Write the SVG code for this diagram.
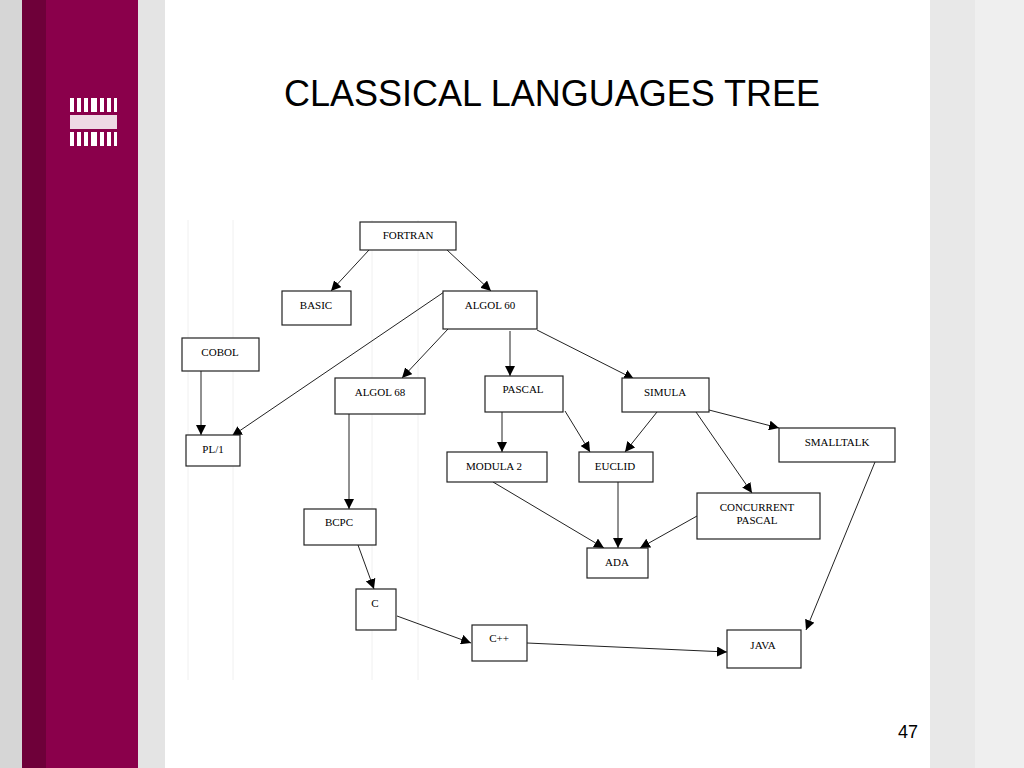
<svg xmlns="http://www.w3.org/2000/svg" width="1024" height="768" viewBox="0 0 1024 768">
<style>
.n rect{fill:#fff;stroke:#222;stroke-width:1.2}
.n text{font-family:"Liberation Serif",serif;font-size:11px;fill:#000;text-anchor:middle}
.e line{stroke:#222;stroke-width:1;marker-end:url(#a)}
.g{stroke:#f0f0f0;stroke-width:1}
</style>
<defs><marker id="a" viewBox="0 0 10 10" refX="10" refY="5" markerWidth="10" markerHeight="10" markerUnits="userSpaceOnUse" orient="auto"><path d="M0,0L10,5L0,10z" fill="#000"/></marker></defs>
<rect width="1024" height="768" fill="#fff"/>
<rect x="0" width="22" height="768" fill="#d6d6d6"/>
<rect x="22" width="24" height="768" fill="#6e0039"/>
<rect x="46" width="92" height="768" fill="#8a004b"/>
<rect x="138" width="27" height="768" fill="#e4e4e4"/>
<rect x="930" width="45" height="768" fill="#e8e8e8"/>
<rect x="975" width="49" height="768" fill="#efefef"/>
<g fill="#fff">
<rect x="70" y="98" width="4" height="14"/><rect x="77" y="98" width="4" height="14"/><rect x="84" y="98" width="4" height="14"/><rect x="91" y="98" width="6" height="14"/><rect x="100" y="98" width="4" height="14"/><rect x="107" y="98" width="4" height="14"/><rect x="114" y="98" width="3" height="14"/>
<rect x="70" y="115" width="47" height="14" opacity="0.85"/>
<rect x="70" y="132" width="4" height="14"/><rect x="77" y="132" width="4" height="14"/><rect x="84" y="132" width="4" height="14"/><rect x="91" y="132" width="6" height="14"/><rect x="100" y="132" width="4" height="14"/><rect x="107" y="132" width="4" height="14"/><rect x="114" y="132" width="3" height="14"/>
</g>
<g class="g"><line x1="188" y1="220" x2="188" y2="680"/><line x1="233" y1="220" x2="233" y2="680"/><line x1="372" y1="220" x2="372" y2="680"/><line x1="418" y1="220" x2="418" y2="680"/></g>
<text x="552" y="106" font-family="Liberation Sans,sans-serif" font-size="36" text-anchor="middle">CLASSICAL LANGUAGES TREE</text>
<text x="908" y="738" font-family="Liberation Sans,sans-serif" font-size="18" text-anchor="middle">47</text>
<g class="e">
<line x1="369" y1="250" x2="331" y2="291"/>
<line x1="447" y1="250" x2="491" y2="291"/>
<line x1="444" y1="292" x2="232" y2="436"/>
<line x1="201" y1="371" x2="201" y2="435"/>
<line x1="448" y1="329" x2="402" y2="378"/>
<line x1="510" y1="331" x2="510" y2="376"/>
<line x1="537" y1="330" x2="634" y2="379"/>
<line x1="502" y1="412" x2="502" y2="452"/>
<line x1="565" y1="411" x2="590" y2="452"/>
<line x1="657" y1="412" x2="625" y2="452"/>
<line x1="709" y1="410" x2="779" y2="428"/>
<line x1="696" y1="412" x2="752" y2="493"/>
<line x1="349" y1="414" x2="349" y2="509"/>
<line x1="493" y1="482" x2="604" y2="548"/>
<line x1="618" y1="482" x2="618" y2="548"/>
<line x1="697" y1="516" x2="640" y2="548"/>
<line x1="875" y1="462" x2="806" y2="630"/>
<line x1="358" y1="545" x2="374" y2="589"/>
<line x1="397" y1="616" x2="471" y2="643"/>
<line x1="527" y1="643" x2="727" y2="652"/>
</g>
<g id="fortran" class="n"><rect x="360" y="222" width="96" height="28"/><text x="408" y="239">FORTRAN</text></g>
<g id="basic" class="n"><rect x="282" y="291" width="69" height="34"/><text x="316" y="309">BASIC</text></g>
<g id="algol60" class="n"><rect x="443" y="291" width="94" height="38"/><text x="490" y="309">ALGOL 60</text></g>
<g id="cobol" class="n"><rect x="182" y="338" width="77" height="33"/><text x="220" y="356">COBOL</text></g>
<g id="pl1" class="n"><rect x="186" y="435" width="54" height="31"/><text x="213" y="453">PL/1</text></g>
<g id="algol68" class="n"><rect x="335" y="378" width="90" height="36"/><text x="380" y="396">ALGOL 68</text></g>
<g id="pascal" class="n"><rect x="485" y="376" width="78" height="36"/><text x="523" y="393">PASCAL</text></g>
<g id="simula" class="n"><rect x="622" y="378" width="87" height="34"/><text x="665" y="396">SIMULA</text></g>
<g id="modula2" class="n"><rect x="447" y="452" width="100" height="30"/><text x="494" y="470">MODULA 2</text></g>
<g id="euclid" class="n"><rect x="579" y="452" width="74" height="30"/><text x="615" y="470">EUCLID</text></g>
<g id="smalltalk" class="n"><rect x="779" y="428" width="116" height="34"/><text x="837" y="446">SMALLTALK</text></g>
<g id="concurrent" class="n"><rect x="697" y="493" width="123" height="46"/><text x="757" y="511">CONCURRENT</text><text x="757" y="524">PASCAL</text></g>
<g id="bcpc" class="n"><rect x="304" y="509" width="72" height="36"/><text x="339" y="526">BCPC</text></g>
<g id="ada" class="n"><rect x="587" y="548" width="61" height="30"/><text x="617" y="566">ADA</text></g>
<g id="c" class="n"><rect x="356" y="589" width="40" height="41"/><text x="375" y="607">C</text></g>
<g id="cpp" class="n"><rect x="472" y="625" width="55" height="36"/><text x="499" y="642">C++</text></g>
<g id="java" class="n"><rect x="727" y="630" width="74" height="38"/><text x="763" y="649">JAVA</text></g>
</svg>
